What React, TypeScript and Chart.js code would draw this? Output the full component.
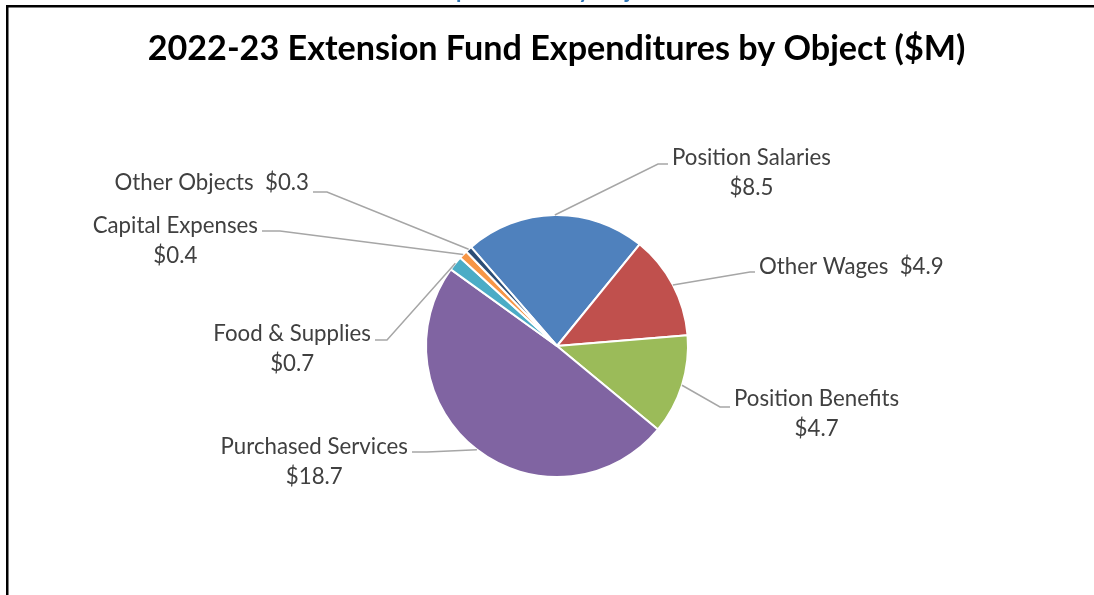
import React, { useEffect, useRef } from "react";
import { Chart, registerables } from "chart.js";

Chart.register(...registerables);

// ---------- data ----------
const categories = [
  "Position Salaries",
  "Other Wages",
  "Position Benefits",
  "Purchased Services",
  "Food & Supplies",
  "Capital Expenses",
  "Other Objects",
];
const amounts = [8.5, 4.9, 4.7, 18.7, 0.7, 0.4, 0.3];
const sliceColors = ["#4F81BD", "#C0504D", "#9BBB59", "#8064A2", "#4BACC6", "#F79646", "#2C4D75"];
const chartTitle = "2022-23 Extension Fund Expenditures by Object ($M)";
const headerFragment = "Expenditures by Object";

// ---------- label layout (offsets from the pie centre) ----------
// elbow: end of the slanted leader segment; end: x where the short horizontal stops;
// textY: vertical centre of the first text line; inline: name and value on one line
const labelLayout = [
  { elbow: [101, -182], end: 111, textY: -189, inline: false },
  { elbow: [193, -74], end: 198, textY: -80, inline: true },
  { elbow: [163, 61], end: 173, textY: 52, inline: false },
  { elbow: [-130, 106], end: -145, textY: 100, inline: false },
  { elbow: [-170, -6], end: -182, textY: -13, inline: false },
  { elbow: [-277, -115], end: -295, textY: -121, inline: false },
  { elbow: [-230, -154], end: -244, textY: -164, inline: true },
];

const FONT = "Lato, 'Noto Sans', sans-serif";

const fitSize = (ctx: CanvasRenderingContext2D, text: string, weight: string, target: number) => {
  ctx.font = `${weight} 30px ${FONT}`;
  const w = ctx.measureText(text).width;
  return (30 * target) / w;
};

const decorPlugin = {
  id: "decor",
  afterDraw(chart: any) {
    const ctx: CanvasRenderingContext2D = chart.ctx;
    ctx.save();

    // frame lines (left and top)
    ctx.fillStyle = "#000000";
    ctx.fillRect(6, 5, chart.width - 6, 2.5);
    ctx.fillRect(6, 5, 2.5, chart.height - 5);

    // cut-off blue heading above the frame
    const fragSize = 22;
    ctx.font = `bold ${fragSize}px ${FONT}`;
    ctx.fillStyle = "#2E75B6";
    ctx.textAlign = "left";
    ctx.textBaseline = "alphabetic";
    const exW = ctx.measureText("Ex").width;
    ctx.fillText(headerFragment, 456 - exW, -2);

    // title
    const tSize = fitSize(ctx, chartTitle, "bold", 818);
    ctx.font = `bold ${tSize}px ${FONT}`;
    ctx.fillStyle = "#000000";
    ctx.textAlign = "center";
    ctx.textBaseline = "alphabetic";
    ctx.fillText(chartTitle, 556.5, 59.5);

    // labels and leader lines
    const lSize = fitSize(ctx, "Position Salaries", "normal", 159);
    const capH = lSize * 0.72;
    const meta = chart.getDatasetMeta(0);
    meta.data.forEach((arc: any, i: number) => {
      const p = arc.getProps(["x", "y", "startAngle", "endAngle", "outerRadius"], true);
      const mid = (p.startAngle + p.endAngle) / 2;
      const sx = p.x + Math.cos(mid) * p.outerRadius;
      const sy = p.y + Math.sin(mid) * p.outerRadius;
      const L = labelLayout[i];
      const ex = p.x + L.elbow[0];
      const ey = p.y + L.elbow[1];
      const hx = p.x + L.end;
      const right = L.end > L.elbow[0];

      ctx.strokeStyle = "#A6A6A6";
      ctx.lineWidth = 1.5;
      ctx.beginPath();
      ctx.moveTo(sx, sy);
      ctx.lineTo(ex, ey);
      ctx.lineTo(hx, ey);
      ctx.stroke();

      const val = "$" + amounts[i].toFixed(1);
      const lines = L.inline ? [`${categories[i]}  ${val}`] : [categories[i], val];
      ctx.font = `normal ${lSize}px ${FONT}`;
      ctx.fillStyle = "#404040";
      ctx.textAlign = "center";
      ctx.textBaseline = "alphabetic";
      const blockW = Math.max(...lines.map((s) => ctx.measureText(s).width));
      const left = right ? hx + 4 : hx - 4 - blockW;
      lines.forEach((s, j) => {
        ctx.fillText(s, left + blockW / 2, p.y + L.textY + j * 30 + capH / 2);
      });
    });

    ctx.restore();
  },
};

export default function App() {
  const ref = useRef<HTMLCanvasElement | null>(null);

  useEffect(() => {
    document.body.style.margin = "0";
    const canvas = ref.current;
    if (!canvas) return;
    const chart = new Chart(canvas, {
      type: "pie",
      data: {
        labels: categories,
        datasets: [
          {
            data: amounts,
            backgroundColor: sliceColors,
            borderColor: "#FFFFFF",
            borderWidth: 2,
          },
        ],
      },
      options: {
        responsive: false,
        animation: false,
        rotation: -41,
        layout: { padding: { left: 425, right: 405, top: 214, bottom: 117 } },
        plugins: {
          legend: { display: false },
          tooltip: { enabled: false },
          title: { display: false },
        },
      },
      plugins: [decorPlugin],
    });
    return () => chart.destroy();
  }, []);

  return (
    <div style={{ width: 1094, height: 595, background: "#FFFFFF", overflow: "hidden" }}>
      <canvas ref={ref} width={1094} height={595} style={{ display: "block" }} />
    </div>
  );
}
